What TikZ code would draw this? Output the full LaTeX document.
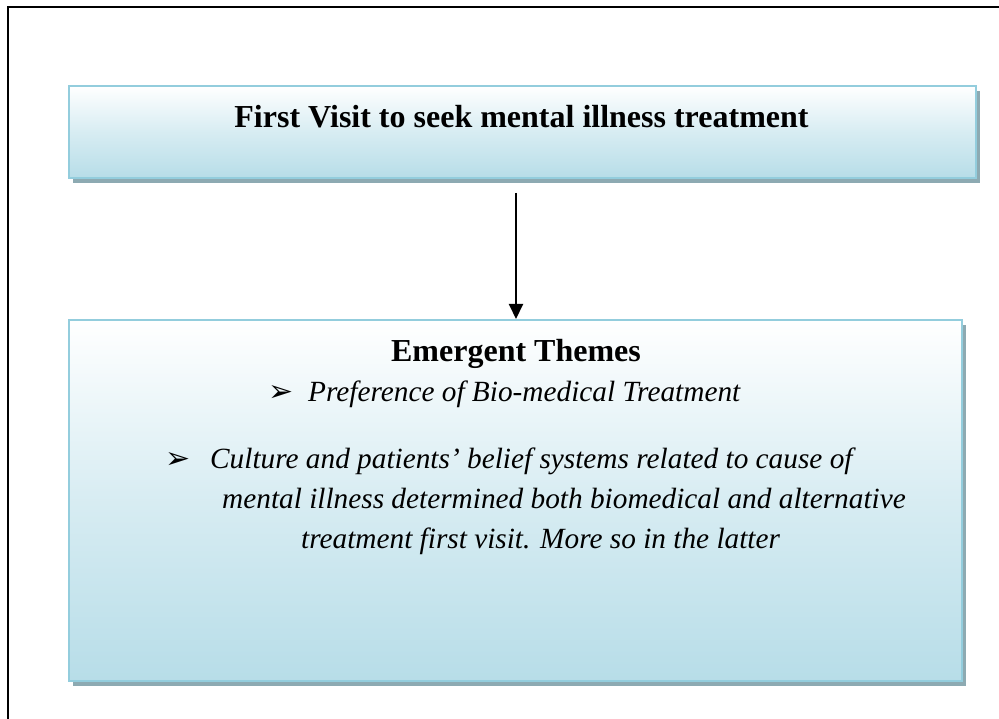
\documentclass[tikz,border=0pt]{standalone}
\usepackage{fontspec}
\setmainfont{Liberation Serif}
\newfontfamily\dingfont{DejaVu Sans}
\usetikzlibrary{shadows,arrows.meta}
\definecolor{boxedge}{HTML}{93CDDD}
\definecolor{boxblue}{HTML}{B7DDE8}
\definecolor{boxshade}{HTML}{8DAAB2}
\begin{document}
\begin{tikzpicture}[x=1pt,y=-1pt,
   themebox/.style={draw=boxedge,line width=2pt,top color=white,bottom color=boxblue,middle color=boxblue!55,inner sep=0pt,
      drop shadow={shadow xshift=4pt,shadow yshift=-5pt,fill=boxshade,opacity=1}},
   headtext/.style={anchor=base,inner sep=0pt,font=\fontsize{32}{38}\selectfont\bfseries},
   itemtext/.style={anchor=base west,inner sep=0pt,font=\fontsize{29.3}{40}\selectfont\itshape},
   bullet/.style={anchor=base west,inner sep=0pt,font=\fontsize{30}{34}\selectfont\dingfont}]

                \useasboundingbox (0,0) rectangle (999,719);
                \draw[line width=2pt] (8,719) -- (8,7) -- (999,7); %frame

                \node[themebox,minimum width=907pt,minimum height=92pt] (visit) at (522.5,132) {}; %upper box
                \node[themebox,minimum width=893pt,minimum height=361pt] (themes) at (515.5,500.5) {}; %lower box

                \node[headtext] (visittxt) at (521.5,128) {First Visit to seek mental illness treatment};
                \node[headtext] (themestxt) at (516,362) {Emergent Themes};

                \node[bullet] (b1) at (268,402) {➢};
                \node[itemtext] (i1) at (308,402) {Preference of Bio-medical Treatment};
                \node[bullet] (b2) at (165,468) {➢};
                \node[itemtext] (i2) at (210,468) {Culture and patients’ belief systems related to cause of};
                \node[itemtext] (i3) at (222,508) {mental illness determined both biomedical and alternative};
                \node[itemtext] (i4) at (301,548) {treatment first visit. More so in the latter};

                \coordinate (arrowtop) at (516,193); %arrow start
                \draw[line width=2pt,-{Triangle[length=15pt,width=14pt]}] (arrowtop) -- (arrowtop |- themes.north);

\end{tikzpicture}
\end{document}
